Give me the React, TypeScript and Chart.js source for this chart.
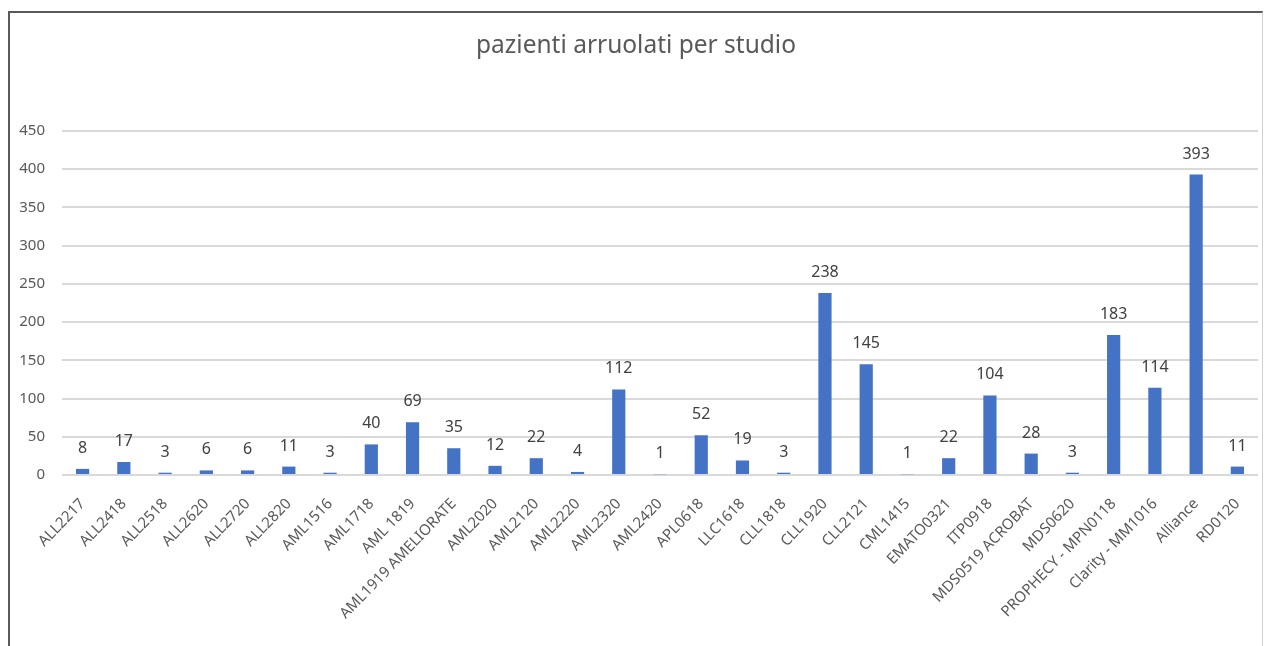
import React, { useEffect, useRef } from "react";
import { Chart, registerables } from "chart.js";

Chart.register(...registerables);

const studies: string[] = [
  "ALL2217", "ALL2418", "ALL2518", "ALL2620", "ALL2720", "ALL2820",
  "AML1516", "AML1718", "AML 1819", "AML1919 AMELIORATE", "AML2020",
  "AML2120", "AML2220", "AML2320", "AML2420", "APL0618", "LLC1618",
  "CLL1818", "CLL1920", "CLL2121", "CML1415", "EMATO0321", "ITP0918",
  "MDS0519 ACROBAT", "MDS0620", "PROPHECY - MPN0118", "Clarity - MM1016",
  "Alliance", "RD0120",
];

const patients: number[] = [
  8, 17, 3, 6, 6, 11, 3, 40, 69, 35, 12, 22, 4, 112, 1, 52, 19, 3, 238, 145,
  1, 22, 104, 28, 3, 183, 114, 393, 11,
];

const yTicks: number[] = [0, 50, 100, 150, 200, 250, 300, 350, 400, 450];

const FONT = "'Noto Sans', 'Open Sans', sans-serif";

// Writes each bar's value just above it.
const valueLabels = {
  id: "valueLabels",
  afterDatasetsDraw(chart: any) {
    const { ctx } = chart;
    const meta = chart.getDatasetMeta(0);
    ctx.save();
    ctx.font = `16px ${FONT}`;
    ctx.fillStyle = "#404040";
    ctx.textAlign = "center";
    ctx.textBaseline = "alphabetic";
    meta.data.forEach((bar: any, i: number) => {
      ctx.fillText(String(patients[i]), bar.x, bar.y - 16);
    });
    ctx.restore();
  },
};

export default function App() {
  const canvasRef = useRef<HTMLCanvasElement | null>(null);

  useEffect(() => {
    document.body.style.overflow = "hidden";
    const canvas = canvasRef.current;
    if (!canvas) return;
    const chart = new Chart(canvas, {
      type: "bar",
      data: {
        labels: studies,
        datasets: [
          {
            data: patients,
            backgroundColor: "#4472C4",
            borderWidth: 0,
            barPercentage: 0.32,
            categoryPercentage: 1,
          },
        ],
      },
      options: {
        animation: false,
        responsive: true,
        maintainAspectRatio: false,
        layout: { padding: { left: 4, right: 4, top: 0, bottom: 0 } },
        plugins: {
          legend: { display: false },
          tooltip: { enabled: false },
          title: {
            display: true,
            text: "pazienti arruolati per studio",
            color: "#595959",
            font: { family: FONT, size: 24.5, weight: "normal", lineHeight: 1.2 },
            padding: { top: 18.5, bottom: 70.1 },
          },
        },
        scales: {
          x: {
            grid: { display: false, drawTicks: false },
            border: { display: false },
            ticks: {
              color: "#595959",
              font: { family: FONT, size: 15 },
              minRotation: 46,
              maxRotation: 46,
              autoSkip: false,
              padding: 20,
            },
            afterFit(scale: any) {
              scale.height = 171;
              scale.paddingLeft = 0;
              scale.paddingRight = 0;
            },
          },
          y: {
            min: 0,
            max: 450,
            afterBuildTicks(scale: any) {
              scale.ticks = yTicks.map((v) => ({ value: v }));
            },
            grid: { color: "#d9d9d9", lineWidth: 2, drawTicks: false },
            border: { display: false },
            ticks: {
              color: "#595959",
              font: { family: FONT, size: 15 },
              padding: 17,
            },
            afterFit(scale: any) {
              scale.width = 48;
            },
          },
        },
      },
      plugins: [valueLabels],
    });
    return () => chart.destroy();
  }, []);

  return (
    <div
      style={{
        position: "absolute",
        left: 8,
        top: 11,
        width: 1252,
        height: 633,
        borderTop: "2px solid #5a5a5a",
        borderLeft: "2px solid #5a5a5a",
        borderRight: "1px solid #cfcfcf",
        background: "#ffffff",
      }}
    >
      <canvas ref={canvasRef} />
    </div>
  );
}
